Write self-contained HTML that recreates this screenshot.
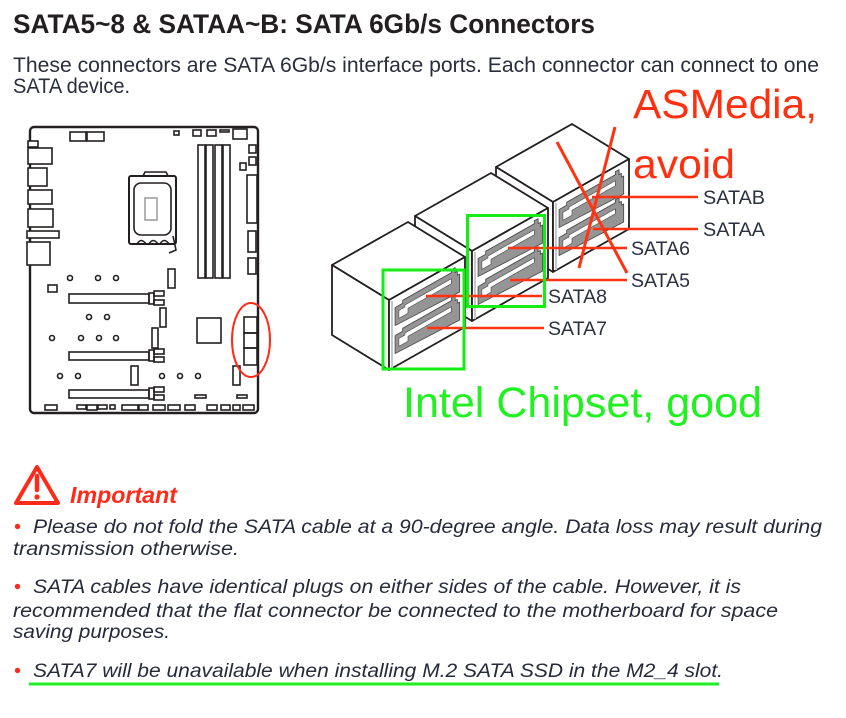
<!DOCTYPE html>
<html><head><meta charset="utf-8"><style>
html,body{margin:0;padding:0;background:#fff;}
svg{display:block;}
</style></head><body>
<svg width="846" height="718" viewBox="0 0 846 718" xmlns="http://www.w3.org/2000/svg">
<rect width="846" height="718" fill="#fff"/>
<!-- Header -->
<text x="13" y="33" font-family="Liberation Sans, sans-serif" font-weight="bold" font-size="27" fill="#231f20" textLength="582" lengthAdjust="spacingAndGlyphs">SATA5~8 &amp; SATAA~B: SATA 6Gb/s Connectors</text>
<text x="13" y="72" font-family="Liberation Sans, sans-serif" font-size="21" fill="#2a2d3c" textLength="806" lengthAdjust="spacingAndGlyphs">These connectors are SATA 6Gb/s interface ports. Each connector can connect to one</text>
<text x="13" y="93" font-family="Liberation Sans, sans-serif" font-size="21" fill="#2a2d3c" textLength="117" lengthAdjust="spacingAndGlyphs">SATA device.</text>

<!-- Motherboard -->
<g fill="none" stroke="#231f20" stroke-width="1.6">
<rect x="30" y="127" width="228" height="286" rx="4" stroke-width="2.4" fill="#fff"/>
<rect x="70" y="132" width="16" height="9"/><rect x="87" y="132" width="17" height="9"/>
<rect x="174" y="131" width="5" height="4"/><rect x="193" y="130" width="8" height="6"/><rect x="207" y="130" width="9" height="6"/>
<rect x="220" y="130" width="9" height="2"/><rect x="233" y="129" width="14" height="10"/>
<g fill="#fff">
<rect x="28" y="141" width="10" height="6"/><rect x="28" y="148" width="24" height="16"/><rect x="28" y="168" width="19" height="18"/>
<rect x="28" y="190" width="24" height="14"/><rect x="28" y="209" width="25" height="18"/><rect x="27" y="231" width="32" height="7"/>
<rect x="27" y="242" width="23" height="23"/>
</g>
<!-- CPU -->
<rect x="129" y="176" width="47" height="68" rx="2" stroke-width="2"/>
<path d="M143,176 L145,172 L166,172 L168,176"/>
<rect x="134" y="183" width="37" height="52" rx="7"/>
<rect x="145" y="198" width="12" height="22" stroke="#a0a0a0"/>
<path d="M137,244 q4,-7 9,0 M149,244 q4,-7 9,0 M160,244 q4,-7 9,0"/>
<path d="M173,236 L176,250 L169,253"/>
<!-- DIMM -->
<rect x="198" y="145" width="7" height="133"/><rect x="206" y="145" width="7" height="133"/>
<rect x="215" y="145" width="7" height="133"/><rect x="223" y="145" width="7" height="133"/>
<!-- right side -->
<rect x="249" y="145" width="7" height="8"/><rect x="249" y="157" width="7" height="8"/><rect x="240" y="163" width="6" height="7"/>
<rect x="247" y="175" width="10" height="48"/><rect x="248" y="231" width="8" height="21"/><rect x="248" y="258" width="8" height="16"/>
<rect x="168" y="269" width="7" height="19"/>
<rect x="48" y="285" width="9" height="7"/>
<!-- circles -->
<circle cx="70" cy="278" r="2.5"/><circle cx="98" cy="278" r="2.5"/><circle cx="116" cy="278" r="2.5"/>
<circle cx="89" cy="317" r="2.5"/><circle cx="107" cy="317" r="2.5"/>
<circle cx="52" cy="338" r="2.5"/><circle cx="81" cy="338" r="2.5"/><circle cx="99" cy="338" r="2.5"/><circle cx="116" cy="338" r="2.5"/>
<circle cx="60" cy="376" r="2.5"/><circle cx="78" cy="376" r="2.5"/><circle cx="162" cy="376" r="2.5"/><circle cx="180" cy="376" r="2.5"/><circle cx="198" cy="376" r="2.5"/>
<!-- PCIe -->
<rect x="69" y="294" width="80" height="9"/><rect x="149" y="293" width="5" height="11"/><rect x="154" y="291" width="10" height="5"/><rect x="154" y="300" width="10" height="5"/>
<rect x="69" y="352" width="80" height="8"/><rect x="149" y="350" width="5" height="11"/><rect x="154" y="349" width="10" height="5"/><rect x="154" y="357" width="10" height="5"/>
<rect x="69" y="390" width="80" height="8"/><rect x="149" y="388" width="5" height="11"/><rect x="154" y="387" width="10" height="5"/><rect x="154" y="395" width="10" height="5"/>
<rect x="160" y="308" width="6" height="19"/><rect x="152" y="328" width="6" height="20"/>
<rect x="197" y="318" width="24" height="25"/>
<rect x="131" y="366" width="7" height="19"/><rect x="233" y="366" width="7" height="19"/>
<rect x="244" y="317" width="13" height="16"/><rect x="244" y="333" width="13" height="15"/><rect x="244" y="348" width="13" height="17"/>
<rect x="195" y="395" width="11" height="3"/><rect x="237" y="395" width="10" height="3"/>
<!-- bottom row -->
<rect x="45" y="405" width="12" height="5"/><rect x="77" y="405" width="9" height="4"/><rect x="87" y="405" width="10" height="5"/>
<rect x="98" y="405" width="9" height="4"/><rect x="110" y="405" width="5" height="4"/><rect x="122" y="405" width="16" height="5"/>
<rect x="139" y="405" width="9" height="5"/><rect x="153" y="405" width="12" height="5"/><rect x="168" y="405" width="12" height="5"/>
<rect x="185" y="405" width="10" height="5"/><rect x="207" y="405" width="10" height="5"/><rect x="221" y="405" width="9" height="5"/>
<rect x="233" y="405" width="7" height="5"/><rect x="243" y="405" width="11" height="5"/>
</g>
<ellipse cx="251" cy="340" rx="19" ry="37" fill="none" stroke="#ff2a1a" stroke-width="2"/>

<!-- SATA blocks -->
<defs>
<g id="conn">
<path d="M8,11 L18,11 L18,8 L82,8 L82,5 L87,5 L87,10 L90,10 L90,14 L93,14 L93,32 L8,29 Z" fill="#959595" stroke="#444" stroke-width="0.8" vector-effect="non-scaling-stroke"/>
<path d="M13,16 L21,16 L21,14 L82,14 L82,19 L25,19 L25,24 L13,24 Z" fill="#fff" stroke="#444" stroke-width="0.6" vector-effect="non-scaling-stroke"/>
</g>
</defs>
<g stroke="#231f20" stroke-width="1.8" stroke-linejoin="round" fill="#fff">
<!-- block 3 -->
<polygon points="496,167 572,124 629,159 553,202"/>
<polygon points="496,167 553,202 553,272 496,237"/>
<polygon points="553,202 629,159 629,229 553,272"/>
<line x1="556" y1="203" x2="556" y2="270" stroke="#c8c8c8" stroke-width="2"/>
<g transform="matrix(0.76,-0.43,0,1,553,202)"><use href="#conn"/><use href="#conn" y="28"/></g>
<!-- block 2 -->
<polygon points="415,216 491,173 548,208 472,251"/>
<polygon points="415,216 472,251 472,321 415,286"/>
<polygon points="472,251 548,208 548,278 472,321"/>
<line x1="475" y1="252" x2="475" y2="319" stroke="#c8c8c8" stroke-width="2"/>
<g transform="matrix(0.76,-0.43,0,1,472,251)"><use href="#conn"/><use href="#conn" y="28"/></g>
<!-- block 1 -->
<polygon points="332,265 408,222 465,257 389,300"/>
<polygon points="332,265 389,300 389,370 332,335"/>
<polygon points="389,300 465,257 465,327 389,370"/>
<line x1="392" y1="301" x2="392" y2="368" stroke="#c8c8c8" stroke-width="2"/>
<g transform="matrix(0.76,-0.43,0,1,389,300)"><use href="#conn"/><use href="#conn" y="28"/></g>
</g>

<!-- red label lines -->
<g stroke="#ff3311" stroke-width="2.6">
<line x1="426" y1="296" x2="542" y2="296"/>
<line x1="427" y1="328" x2="544" y2="328"/>
<line x1="508" y1="248" x2="627" y2="248"/>
<line x1="510" y1="280" x2="627" y2="280"/>
<line x1="592" y1="197" x2="698" y2="197"/>
<line x1="593" y1="229" x2="698" y2="229"/>
<line x1="557" y1="142" x2="627" y2="273" stroke-width="3"/>
<line x1="615" y1="127" x2="579" y2="268" stroke-width="3"/>
</g>
<g font-family="Liberation Sans, sans-serif" font-size="19" fill="#2b3040">
<text x="548" y="303" textLength="59" lengthAdjust="spacingAndGlyphs">SATA8</text>
<text x="548" y="335" textLength="59" lengthAdjust="spacingAndGlyphs">SATA7</text>
<text x="631" y="255" textLength="59" lengthAdjust="spacingAndGlyphs">SATA6</text>
<text x="631" y="287" textLength="59" lengthAdjust="spacingAndGlyphs">SATA5</text>
<text x="703" y="204" textLength="62" lengthAdjust="spacingAndGlyphs">SATAB</text>
<text x="703" y="236" textLength="62" lengthAdjust="spacingAndGlyphs">SATAA</text>
</g>
<text x="633" y="118" font-family="Liberation Sans, sans-serif" font-size="41" fill="#ff3010" textLength="184" lengthAdjust="spacingAndGlyphs">ASMedia,</text>
<text x="633" y="178" font-family="Liberation Sans, sans-serif" font-size="41" fill="#ff3010" textLength="102" lengthAdjust="spacingAndGlyphs">avoid</text>

<!-- green boxes -->
<g fill="none" stroke="#14ee14" stroke-width="3">
<rect x="383" y="270" width="81" height="99"/>
<rect x="467.5" y="215.5" width="77" height="91"/>
</g>
<text x="403" y="417" font-family="Liberation Sans, sans-serif" font-size="43" fill="#1ff21f" textLength="359" lengthAdjust="spacingAndGlyphs">Intel Chipset, good</text>

<!-- Important -->
<path d="M37,467 L58,503 L16,503 Z" fill="none" stroke="#ff2a1a" stroke-width="4" stroke-linejoin="round"/>
<line x1="37" y1="476" x2="37" y2="490" stroke="#ff2a1a" stroke-width="4.5" stroke-linecap="round"/>
<circle cx="37" cy="497" r="2.6" fill="#ff2a1a"/>
<text x="70" y="503" font-family="Liberation Sans, sans-serif" font-weight="bold" font-style="italic" font-size="23" fill="#ff2a1a" textLength="107" lengthAdjust="spacingAndGlyphs">Important</text>

<g fill="#ff2a1a">
<circle cx="17.5" cy="526.5" r="2.7"/><circle cx="17.5" cy="586.5" r="2.7"/><circle cx="17.5" cy="670.5" r="2.7"/>
</g>
<g font-family="Liberation Sans, sans-serif" font-style="italic" font-size="19.5" fill="#262a3a">
<text x="33" y="533" textLength="789" lengthAdjust="spacingAndGlyphs">Please do not fold the SATA cable at a 90-degree angle. Data loss may result during</text>
<text x="13" y="555" textLength="226" lengthAdjust="spacingAndGlyphs">transmission otherwise.</text>
<text x="33" y="593" textLength="708" lengthAdjust="spacingAndGlyphs">SATA cables have identical plugs on either sides of the cable. However, it is</text>
<text x="13" y="617" textLength="765" lengthAdjust="spacingAndGlyphs">recommended that the flat connector be connected to the motherboard for space</text>
<text x="13" y="638" textLength="157" lengthAdjust="spacingAndGlyphs">saving purposes.</text>
<text x="33" y="677" textLength="690" lengthAdjust="spacingAndGlyphs">SATA7 will be unavailable when installing M.2 SATA SSD in the M2_4 slot.</text>
</g>
<line x1="29" y1="684" x2="719" y2="684" stroke="#22ee22" stroke-width="3"/>
</svg>
</body></html>
